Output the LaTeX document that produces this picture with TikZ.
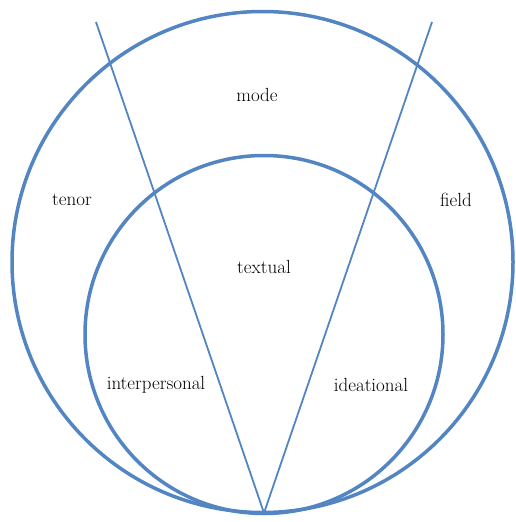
\documentclass[tikz,border=0pt]{standalone}
\begin{document}
\begin{tikzpicture}[x=1pt,y=-1pt,
  ring/.style={draw=ringblue,line width=3.5pt},
  ray/.style={draw=ringblue,line width=1.8pt},
  lbl/.style={font=\fontsize{19}{22}\selectfont,text=black,inner sep=0pt}]
\definecolor{ringblue}{HTML}{5285C2}
\useasboundingbox (0,0) rectangle (515,522);
\coordinate (big) at (262.5,262);
\coordinate (small) at (264,334.5);
\coordinate (tl) at (96,22);
\coordinate (tr) at (432,22);
\coordinate (apex) at (264,513);
\draw[ring] (big) circle[radius=250.5];
\draw[ring] (small) circle[radius=179];
\draw[ray] (tl) -- (apex);
\draw[ray] (tr) -- (apex);
\node[lbl] (mode) at (257,95) {mode};
\node[lbl] (tenor) at (72,200) {tenor};
\node[lbl] (field) at (456,200) {field};
\node[lbl] (textual) at (264,267) {textual};
\node[lbl] (interpersonal) at (156,385) {interpersonal};
\node[lbl] (ideational) at (371,385) {ideational};
\end{tikzpicture}
\end{document}
